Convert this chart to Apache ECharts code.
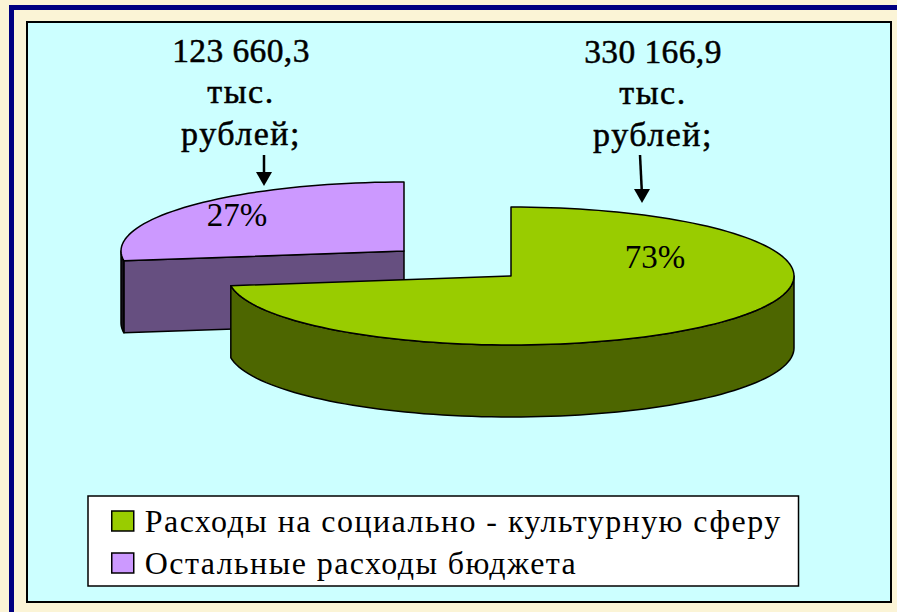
<!DOCTYPE html>
<html><head><meta charset="utf-8">
<style>html,body{margin:0;padding:0;background:#fbf4d6}#c{width:897px;height:612px}
#c svg text[style*="32px"]{letter-spacing:1.44px}
#c svg text[style*="34px"]{letter-spacing:1.5px}
#c svg text[style*="33.5px"]{letter-spacing:.4px}
</style>
<script src="https://cdn.jsdelivr.net/npm/echarts@6/dist/echarts.min.js"></script>
</head><body><div id="c"></div>
<script>
var categories = ['Расходы на социально - культурную сферу', 'Остальные расходы бюджета'];
var values = [330166.9, 123660.3];
var valueTexts = ['330 166,9', '123 660,3'];
var unitLines = ['тыс.', 'рублей;'];
var topColors = ['#99cc00', '#cc99ff'];
var arcWallColors = ['#4d6600', '#141018'];
var radialWallColor = '#664f80';

var total = values[0] + values[1];
var RX = 283, RY = 69, DEPTH = 72;
var centers = [[511, 276], [404, 251]];
var percentPos = [[655, 257], [237, 215]];
var labelPos = [[653, 51], [241, 50]];
var LINE_H = 41.5;
var FONT = '"Liberation Serif","Times New Roman",serif';

function pt(c, deg, dy) {
  var a = deg * Math.PI / 180;
  return [c[0] + RX * Math.sin(a), c[1] - RY * Math.cos(a) + (dy || 0)];
}
function arc(c, from, to, dy) {
  var out = [], n = Math.max(2, Math.ceil(Math.abs(to - from) / 2));
  for (var i = 0; i <= n; i++) out.push(pt(c, from + (to - from) * i / n, dy));
  return out;
}
function renderSlice(idx) {
  return function (params, api) {
    var v = api.value(0), c = centers[idx];
    var start = 0;
    for (var i = 0; i < idx; i++) start += values[i] / total * 360;
    var end = start + v / total * 360;
    var kids = [];
    var line = { stroke: '#000', lineWidth: 1.5, lineJoin: 'round' };
    function poly(points, fill) {
      kids.push({ type: 'polygon', shape: { points: points }, style: Object.assign({ fill: fill }, line) });
    }
    function label(text, x, y, size, heavy) {
      kids.push({ type: 'text', style: {
        text: text, x: x, y: y, align: 'center', verticalAlign: 'middle', fill: '#000',
        stroke: heavy ? '#000' : null, lineWidth: heavy ? 0.5 : 0, font: size + 'px ' + FONT } });
    }
    if (start > 90 && start < 270) {
      var a = c, b = pt(c, start);
      poly([a, b, [b[0], b[1] + DEPTH], [a[0], a[1] + DEPTH]], radialWallColor);
    }
    var wFrom = Math.max(start, 90), wTo = Math.min(end, 270);
    if (wTo > wFrom) {
      poly(arc(c, wFrom, wTo, 0).concat(arc(c, wTo, wFrom, DEPTH)), arcWallColors[idx]);
    }
    poly([c].concat(arc(c, start, end, 0)), topColors[idx]);
    label(Math.round(v / total * 100) + '%', percentPos[idx][0], percentPos[idx][1], 33, false);
    var lp = labelPos[idx];
    label(valueTexts[idx], lp[0], lp[1], 33.5, true);
    unitLines.forEach(function (t, k) { label(t, lp[0], lp[1] + LINE_H * (k + 1), 34, true); });
    return { type: 'group', children: kids };
  };
}
function arrow(x1, y1, x2, y2) {
  return [
    { type: 'line', shape: { x1: x1, y1: y1, x2: x2, y2: y2 - 8 }, style: { stroke: '#000', lineWidth: 2.5 }, z: 10 },
    { type: 'polygon', shape: { points: [[x2 - 8, y2 - 14], [x2 + 8, y2 - 14], [x2, y2]] }, style: { fill: '#000' }, z: 10 }
  ];
}
var chart = echarts.init(document.getElementById('c'), null, { renderer: 'svg' });
chart.setOption({
  animation: false,
  backgroundColor: '#fbf4d6',
  graphic: [
    { type: 'rect', shape: { x: 9, y: 5, width: 900, height: 5 }, style: { fill: '#000080' }, z: -5 },
    { type: 'rect', shape: { x: 9, y: 5, width: 5, height: 620 }, style: { fill: '#000080' }, z: -5 },
    { type: 'rect', shape: { x: 27, y: 22, width: 864, height: 580 }, style: { fill: '#ccffff', stroke: '#000', lineWidth: 2 }, z: -4 }
  ].concat(arrow(264, 155, 264, 186), arrow(640, 155, 642, 203)),
  legend: {
    left: 88, top: 496, orient: 'vertical',
    data: categories, icon: 'rect', itemWidth: 22, itemHeight: 20, itemGap: 8,
    padding: [8, 73, 6, 23],
    backgroundColor: '#fff', borderColor: '#000', borderWidth: 1.5,
    selectedMode: false,
    itemStyle: { borderColor: '#000', borderWidth: 1.5 },
    textStyle: { fontFamily: FONT, fontSize: 32, color: '#000', lineHeight: 32, padding: [2, 0, 0, 6] }
  },
  series: categories.map(function (name, i) {
    return {
      type: 'custom', name: name, coordinateSystem: 'none', z: i === 0 ? 4 : 3,
      itemStyle: { color: topColors[i] },
      renderItem: renderSlice(i), data: [[values[i]]], silent: true
    };
  })
});
</script></body></html>
